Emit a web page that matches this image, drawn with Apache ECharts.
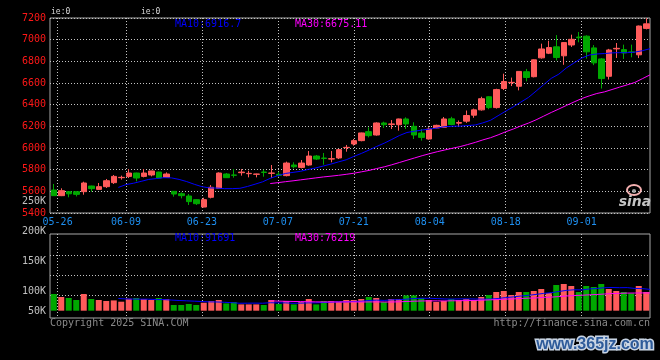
<!DOCTYPE html>
<html><head><meta charset="utf-8">
<script src="https://cdn.jsdelivr.net/npm/echarts@6/dist/echarts.min.js"></script>
<style>html,body{margin:0;padding:0;background:#000;}#c{width:660px;height:360px;}</style>
</head><body><div id="c"></div>
<script>
const dates = ['05-23','05-26','05-27','05-28','05-29','05-30',
'06-03','06-04','06-05','06-06','06-09','06-10','06-11','06-12','06-13','06-16','06-17','06-18','06-19','06-20','06-23','06-24','06-25','06-26','06-27','06-30',
'07-01','07-02','07-03','07-04','07-07','07-08','07-09','07-10','07-11','07-14','07-15','07-16','07-17','07-18','07-21','07-22','07-23','07-24','07-25','07-28','07-29','07-30','07-31',
'08-01','08-04','08-05','08-06','08-07','08-08','08-11','08-12','08-13','08-14','08-15','08-18','08-19','08-20','08-21','08-22','08-25','08-26','08-27','08-28','08-29',
'09-01','09-02','09-03','09-04','09-05','09-08','09-09','09-10','09-11','09-12'];
const labelDates = ['05-26','06-09','06-23','07-07','07-21','08-04','08-18','09-01'];

const open = [5612,5560,5597,5597,5597,5649,5618,5643,5680,5726,
5738,5769,5738,5751,5778,5729,5600,5578,5557,5523,
5455,5545,5628,5760,5751,5772,5763,5757,5778,5766,
5757,5745,5843,5821,5843,5926,5907,5898,5908,6003,
6037,6068,6151,6120,6231,6218,6215,6268,6200,6138,
6083,6185,6191,6269,6229,6248,6303,6352,6473,6373,
6549,6603,6570,6704,6658,6832,6875,6934,6851,6951,
7024,7032,6924,6822,6662,6915,6908,6887,6860,7104];
const close = [5560,5606,5577,5572,5677,5625,5643,5698,5738,5729,
5769,5723,5769,5788,5723,5760,5575,5560,5505,5486,
5523,5637,5769,5726,5748,5778,5766,5760,5775,5769,
5748,5861,5827,5861,5926,5898,5904,5901,5985,6006,
6068,6139,6114,6231,6215,6222,6268,6222,6120,6098,
6175,6209,6268,6217,6235,6300,6352,6455,6373,6539,
6614,6606,6707,6651,6814,6914,6927,6835,6973,7003,
7018,6888,6786,6641,6905,6920,6877,6883,7126,7146];
const low = [5558,5556,5545,5553,5569,5597,5615,5631,5668,5708,
5723,5692,5729,5738,5720,5723,5551,5535,5474,5474,
5452,5535,5625,5723,5726,5745,5729,5729,5735,5723,
5735,5738,5812,5812,5837,5889,5846,5868,5898,5966,
6022,6062,6098,6114,6185,6175,6160,6175,6083,6068,
6077,6182,6185,6210,6202,6232,6279,6345,6358,6364,
6535,6572,6532,6615,6652,6825,6867,6808,6768,6933,
6976,6825,6765,6549,6632,6831,6822,6837,6830,7095];
const high = [5668,5628,5600,5600,5689,5652,5677,5714,5751,5745,
5806,5772,5806,5790,5781,5775,5600,5591,5575,5526,
5541,5658,5775,5769,5806,5806,5790,5763,5800,5843,
5781,5874,5868,5889,5972,5935,5954,5972,5991,6028,
6083,6142,6191,6237,6243,6258,6271,6283,6237,6175,
6191,6215,6286,6288,6254,6346,6364,6473,6478,6547,
6686,6650,6709,6730,6818,6963,6990,7042,6976,7046,
7071,7040,6950,6830,6915,6969,6954,6954,7130,7198];

// moving averages (MA10 from 06-05, MA30 from 07-04)
const ma10 = [5636,5662,5675,5692,5710,5718,5726,5724,5710,5690,
5665,5643,5632,5630,5625,5625,5628,5645,5666,5688,
5720,5745,5765,5775,5785,5802,5816,5834,5852,5872,
5891,5922,5950,5981,6014,6044,6079,6115,6143,6155,
6166,6175,6185,6197,6201,6202,6207,6213,6232,6256,
6298,6340,6380,6424,6467,6525,6585,6643,6682,6740,
6785,6830,6858,6868,6872,6878,6880,6880,6885,6898,
6916.7];
const ma30 = [5672,5680,5689,5697,5706,5715,5724,5733,5740,5748,
5757,5767,5780,5793,5810,5826,5845,5866,5887,5908,
5929,5948,5966,5982,5998,6013,6032,6052,6075,6095,
6121,6150,6175,6204,6230,6260,6294,6328,6360,6393,
6425,6456,6481,6503,6518,6540,6562,6583,6605,6640,
6675.11];

const volume = [71800,58900,54600,46000,71800,50300,46000,41700,44300,38700,
51600,54600,50300,46000,54600,50300,24500,24500,28800,24500,
34400,41700,46000,31400,37400,27100,27100,27100,24500,46000,
28800,41700,27100,37400,50300,27100,41700,41700,38700,46000,
46000,50300,58900,54600,37400,50300,50300,65800,65800,54600,
46000,37400,41700,50300,46000,50300,46000,58900,67500,80400,
84700,67500,80400,80400,84700,93300,76100,110500,114800,106200,
80400,106200,101900,114800,93300,84700,80400,74400,106200,80400];
const volMa10 = [52400,50400,50000,49500,49500,47800,47800,45700,43900,42400,
41000,39300,38000,37500,36100,34400,32000,32300,32600,32100,
34300,33700,33700,31800,32400,33700,33700,35200,36600,38100,
38100,39800,40600,43800,45500,44200,46600,47400,49800,52500,
53400,53400,52100,50400,50000,50800,50800,50400,49700,49900,
52500,56300,59300,63200,66200,70100,74400,77400,82600,87300,
89900,89400,93300,95500,98900,99800,98900,99300,95700,94900,
91691];
const volMa30 = [42600,41100,40500,39600,39300,38600,37900,37700,37700,37500,
37800,37600,37400,37700,38000,37400,37400,38300,39700,40900,
41900,42300,42200,42000,42600,42900,43700,44300,45400,46800,
48000,49800,50700,52500,53900,55000,57300,58400,60700,63200,
65200,66400,68200,69700,71700,73600,74700,75700,76000,76500,
76219];

const priceMin = 5400, priceMax = 7200, priceStep = 200;
const volLabelMin = 50000, volLabelMax = 250000, volLabelStep = 50000;

const RED = '#ff5b5b', GREEN = '#00a800', BLUE = '#0000ff', MAG = '#ff00ff';
const MONO = '"DejaVu Sans Mono", "Liberation Mono", monospace';
const pad = a => Array(dates.length - a.length).fill('-').concat(a);
const labelIdx = new Set(labelDates.map(d => dates.indexOf(d)));
const showAt = i => labelIdx.has(i);
const dotted = { color: '#c4c4c4', type: [1, 2], width: 1 };
const ohlc = dates.map((d, i) => [open[i], close[i], low[i], high[i]]);
const last = a => a[a.length - 1];

const chart = echarts.init(document.getElementById('c'), null, { renderer: 'canvas' });
const gridBase = { outerBoundsMode: 'none', containLabel: false };
const txt = (x, y, text, fill, font, align) => ({ type: 'text', x: x, y: y,
  style: { text: text, fill: fill, font: font, align: align || 'left', verticalAlign: 'middle', textAlign: align || 'left', textVerticalAlign: 'middle' } });
chart.setOption({
  backgroundColor: '#000',
  animation: false,
  grid: [
    Object.assign({ left: 50, top: 18, width: 600, height: 195, show: true, borderColor: '#a8a8a8', borderWidth: 1 }, gridBase),
    Object.assign({ left: 50, top: 234, width: 600, height: 84, show: true, borderColor: '#a8a8a8', borderWidth: 1 }, gridBase),
    Object.assign({ left: 50, top: 255, width: 600, height: 40, show: false }, gridBase),
    Object.assign({ left: 50, top: 201, width: 600, height: 120, show: false }, gridBase)
  ],
  xAxis: [
    { gridIndex: 0, type: 'category', data: dates, boundaryGap: true, show: false, position: 'bottom' },
    { gridIndex: 0, type: 'category', data: dates, boundaryGap: false, position: 'bottom',
      axisLine: { show: false }, axisTick: { show: false },
      axisLabel: { interval: (i) => showAt(i), color: '#1e8ff0', fontFamily: MONO, fontSize: 10, margin: 4 },
      splitLine: { show: true, interval: (i) => showAt(i), lineStyle: dotted } },
    { gridIndex: 1, type: 'category', data: dates, boundaryGap: true, show: false, position: 'bottom' },
    { gridIndex: 1, type: 'category', data: dates, boundaryGap: false, position: 'bottom',
      axisLine: { show: false }, axisTick: { show: false }, axisLabel: { show: false },
      splitLine: { show: true, interval: (i) => showAt(i), lineStyle: dotted } },
    { gridIndex: 2, type: 'value', min: 0, max: 1, show: false },
    { gridIndex: 3, type: 'value', min: 0, max: 1, show: false }
  ],
  yAxis: [
    { gridIndex: 0, type: 'value', min: priceMin, max: priceMax, interval: priceStep,
      axisLine: { show: false }, axisTick: { show: false },
      axisLabel: { color: '#ff1818', fontFamily: MONO, fontSize: 10, margin: 4, formatter: v => String(v) },
      splitLine: { show: true, lineStyle: dotted } },
    { gridIndex: 1, type: 'value', min: -31400, max: 329800, show: false },
    { gridIndex: 2, type: 'value', min: 0, max: 2, interval: 1,
      axisLine: { show: false }, axisTick: { show: false }, axisLabel: { show: false },
      splitLine: { show: true, lineStyle: dotted } },
    { gridIndex: 3, type: 'value', min: volLabelMin, max: volLabelMax, interval: volLabelStep,
      axisLine: { show: false }, axisTick: { show: false }, splitLine: { show: false },
      axisLabel: { color: '#c0c0c0', fontFamily: MONO, fontSize: 10, margin: 4,
        formatter: v => v === volLabelMin ? '{lift|' + (v / 1000) + 'K}' : (v / 1000) + 'K',
        rich: { lift: { padding: [0, 0, 20, 0], color: '#c0c0c0', fontFamily: MONO, fontSize: 10 } } } }
  ],
  series: [
    { type: 'candlestick', xAxisIndex: 0, yAxisIndex: 0, data: ohlc, barWidth: 6,
      itemStyle: { color: RED, color0: GREEN, borderColor: RED, borderColor0: GREEN, borderWidth: 1 } },
    { type: 'line', xAxisIndex: 1, yAxisIndex: 0, data: pad(ma10), symbol: 'none', lineStyle: { color: BLUE, width: 1 } },
    { type: 'line', xAxisIndex: 1, yAxisIndex: 0, data: pad(ma30), symbol: 'none', lineStyle: { color: MAG, width: 1 } },
    { type: 'bar', xAxisIndex: 2, yAxisIndex: 1, barWidth: 6,
      data: volume.map((v, i) => ({ value: v, itemStyle: { color: close[i] >= open[i] ? RED : GREEN } })) },
    { type: 'line', xAxisIndex: 3, yAxisIndex: 1, data: pad(volMa10), symbol: 'none', lineStyle: { color: BLUE, width: 1 } },
    { type: 'line', xAxisIndex: 3, yAxisIndex: 1, data: pad(volMa30), symbol: 'none', lineStyle: { color: MAG, width: 1 } }
  ],
  graphic: [
    txt(51, 12, 'ie:0', '#d8d8d8', '8px ' + MONO),
    txt(141, 12, 'ie:0', '#d8d8d8', '8px ' + MONO),
    txt(175, 24, 'MA10:' + last(ma10), BLUE, '10px ' + MONO),
    txt(295, 24, 'MA30:' + last(ma30), MAG, '10px ' + MONO),
    txt(175, 238, 'MA10:' + last(volMa10), BLUE, '10px ' + MONO),
    txt(295, 238, 'MA30:' + last(volMa30), MAG, '10px ' + MONO),
    txt(50, 323, 'Copyright 2025 SINA.COM', '#8a8a8a', '10px ' + MONO),
    txt(650, 323, 'http://finance.sina.com.cn', '#8a8a8a', '10px ' + MONO, 'right'),
    { type: 'ellipse', shape: { cx: 634, cy: 190, rx: 7, ry: 5 }, style: { fill: 'none', stroke: '#f4b0b0', lineWidth: 2 } },
    { type: 'circle', shape: { cx: 634, cy: 191, r: 2 }, style: { fill: '#a0a0a0' } },
    txt(635, 202, 'sina', '#c4c4c4', 'italic bold 14px "DejaVu Sans"', 'center'),
    { type: 'text', x: 595, y: 345, style: { text: 'www.365jz.com', fill: '#2e5b9a', stroke: '#c8d4e4', lineWidth: 3, strokeFirst: true, font: 'bold 16px "Liberation Sans"', align: 'center', verticalAlign: 'middle', textAlign: 'center', textVerticalAlign: 'middle' } }
  ]
});
</script>
</body></html>
